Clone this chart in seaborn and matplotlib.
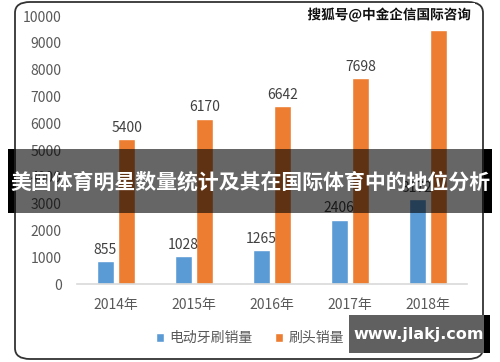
import matplotlib
matplotlib.use("Agg")
import matplotlib.pyplot as plt
import matplotlib.patheffects as pe
from matplotlib.patches import FancyBboxPatch, Rectangle
import seaborn as sns
import pandas as pd

years = ["2014年", "2015年", "2016年", "2017年", "2018年"]
toothbrush = [855, 1028, 1265, 2406, 3172]
brush_head = [5400, 6170, 6642, 7698, 9460]
series_names = ["电动牙刷销量", "刷头销量"]
colors = ["#5B9BD5", "#ED7D31"]
y_ticks = list(range(0, 10001, 1000))
title = "美国体育明星数量统计及其在国际体育中的地位分析"
watermark = "搜狐号@中金企信国际咨询"
site = "www.jlakj.com"

df = pd.DataFrame({
    "year": years * 2,
    "value": toothbrush + brush_head,
    "series": [series_names[0]] * len(years) + [series_names[1]] * len(years),
})

sns.set_theme(style="white")
plt.rcParams["font.family"] = ["Noto Sans CJK SC", "DejaVu Sans"]

W, H = 500, 362
fig = plt.figure(figsize=(W / 100, H / 100), dpi=100)
fig.patch.set_facecolor("white")

# rounded frame
frame = FancyBboxPatch((15 / W, 1 - 359 / H), (483 - 15) / W, (359 - 2) / H,
                       boxstyle="round,pad=0,rounding_size=0.03",
                       transform=fig.transFigure, facecolor="white",
                       edgecolor="#333333", linewidth=1.3, zorder=-5)
fig.patches.append(frame)

ax = fig.add_axes([77 / W, 1 - 284 / H, (467 - 77) / W, (284 - 16) / H])
ax.set_zorder(1)
ax.set_facecolor("none")
sns.barplot(data=df, x="year", y="value", hue="series", palette=colors,
            width=0.564, gap=0.227, ax=ax, legend=True, saturation=1)

ax.set_ylim(0, 10000)
ax.set_yticks(y_ticks)
ax.set_yticklabels([str(t) for t in y_ticks])
ax.set_xlabel("")
ax.set_ylabel("")
for s in ["top", "right", "left"]:
    ax.spines[s].set_visible(False)
ax.spines["bottom"].set_color("#d9d9d9")
ax.spines["bottom"].set_linewidth(1.2)
ax.tick_params(axis="y", length=0, pad=11, labelsize=10, labelcolor="#595959")
ax.tick_params(axis="x", length=0, pad=10, labelsize=10, labelcolor="#595959")

for cont in ax.containers:
    ax.bar_label(cont, fmt="%d", padding=3, fontsize=10, color="#404040")

leg = ax.legend(loc="center",
                bbox_to_anchor=((250 - 77) / (467 - 77), -(338 - 284) / (284 - 16)),
                ncol=2, frameon=False, fontsize=10, handlelength=0.6,
                handleheight=0.6, handletextpad=0.4, columnspacing=1.6)
for t in leg.get_texts():
    t.set_color("#595959")

# watermark
fig.text(471 / W, 1 - 15 / H, watermark, ha="right", va="center",
         fontsize=9.8, fontweight="bold", color="#111111", zorder=10,
         bbox=dict(facecolor="white", edgecolor="none", pad=3),
         path_effects=[pe.withStroke(linewidth=2, foreground="white")])

# title band
fig.patches.append(Rectangle((8 / W, 1 - 213 / H), (492 - 8) / W, (213 - 149) / H,
                             transform=fig.transFigure, facecolor="black",
                             alpha=0.6, edgecolor="none", zorder=5))
fig.patches.append(Rectangle((8 / W, 1 - 213 / H), 6 / W, (213 - 149) / H,
                             transform=fig.transFigure, facecolor="black",
                             edgecolor="none", zorder=5))
fig.patches.append(Rectangle((484 / W, 1 - 213 / H), 8 / W, (213 - 149) / H,
                             transform=fig.transFigure, facecolor="black",
                             edgecolor="none", zorder=5))
fig.text(250 / W, 1 - 182 / H, title, ha="center", va="center",
         fontsize=15, fontweight="bold", color="white", zorder=6)

# site box
fig.patches.append(Rectangle((349 / W, 1 - 353 / H), (484 - 349) / W, (353 - 315) / H,
                             transform=fig.transFigure, facecolor="#606060",
                             edgecolor="none", zorder=5))
fig.patches.append(Rectangle((484 / W, 1 - 353 / H), 6 / W, (353 - 315) / H,
                             transform=fig.transFigure, facecolor="black",
                             edgecolor="none", zorder=5))
fig.text(419 / W, 1 - 335 / H, site, ha="center", va="center",
         fontsize=11.5, fontweight="bold", color="white", zorder=6,
         family=["DejaVu Sans"])

fig.savefig("out.png", dpi=100)
